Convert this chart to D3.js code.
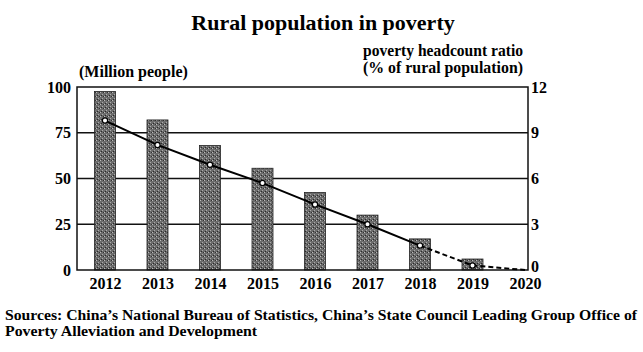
<!DOCTYPE html>
<html>
<head>
<meta charset="utf-8">
<script src="https://cdn.jsdelivr.net/npm/d3@7"></script>
<style>
  body { margin: 0; background: #fff; }
  svg { display: block; font-family: "Liberation Serif", "Times New Roman", serif; }
</style>
</head>
<body>
<svg width="643" height="352"></svg>
<script>
// data
var years = ["2012", "2013", "2014", "2015", "2016", "2017", "2018", "2019", "2020"];
var poorMillions = [97.5, 82, 68, 55.6, 42.3, 30, 17, 6, 0];
var headcountRatio = [9.8, 8.2, 6.9, 5.7, 4.3, 3.0, 1.6, 0.3, 0];
var leftTicks = [0, 25, 50, 75, 100];
var rightTicks = [0, 3, 6, 9, 12];

var svg = d3.select("svg"),
    pLeft = 77, pRight = 528, pTop = 87, pBottom = 270;

var x = d3.scalePoint().domain(years).range([pLeft + 28, pRight - 3]);
var yL = d3.scaleLinear().domain([0, 100]).range([pBottom, pTop]);
var yR = d3.scaleLinear().domain([0, 12]).range([pBottom, pTop]);

// grainy fill for the bars
var defs = svg.append("defs");
var pat = defs.append("pattern").attr("id", "grain")
    .attr("width", 4).attr("height", 4).attr("patternUnits", "userSpaceOnUse");
pat.append("rect").attr("width", 4).attr("height", 4).attr("fill", "#6b6b6b");
pat.append("rect").attr("x", 0).attr("y", 0).attr("width", 1).attr("height", 1).attr("fill", "#bbb");
pat.append("rect").attr("x", 2).attr("y", 2).attr("width", 1).attr("height", 1).attr("fill", "#aaa");
pat.append("rect").attr("x", 3).attr("y", 0).attr("width", 1).attr("height", 1).attr("fill", "#333");
pat.append("rect").attr("x", 1).attr("y", 3).attr("width", 1).attr("height", 1).attr("fill", "#2a2a2a");

// title
svg.append("text").attr("x", 323).attr("y", 30).attr("text-anchor", "middle")
    .attr("font-size", 22).attr("font-weight", "bold").text("Rural population in poverty");

// gridlines
svg.append("g").selectAll("line").data(leftTicks.slice(1, 4)).join("line")
    .attr("x1", pLeft).attr("x2", pRight)
    .attr("y1", d => yL(d)).attr("y2", d => yL(d))
    .attr("stroke", "#111").attr("stroke-width", 1.3);

// bars
svg.append("g").selectAll("rect").data(years.slice(0, 8)).join("rect")
    .attr("x", d => x(d) - 10.5)
    .attr("width", 21)
    .attr("y", (d, i) => yL(poorMillions[i]))
    .attr("height", (d, i) => pBottom - yL(poorMillions[i]))
    .attr("fill", "url(#grain)")
    .attr("stroke", "#222").attr("stroke-width", 0.8);

// frame
svg.append("rect").attr("x", pLeft).attr("y", pTop)
    .attr("width", pRight - pLeft).attr("height", pBottom - pTop)
    .attr("fill", "none").attr("stroke", "#111").attr("stroke-width", 1.5);

// left axis
var axL = svg.append("g").attr("transform", "translate(" + pLeft + ",0)")
    .call(d3.axisLeft(yL).tickValues(leftTicks).tickSize(0).tickPadding(6));
axL.select(".domain").remove();
axL.selectAll("text").attr("font-family", "Liberation Serif").attr("font-size", 16)
    .attr("font-weight", "bold").attr("fill", "#000");

// right axis
var axR = svg.append("g").attr("transform", "translate(" + pRight + ",0)")
    .call(d3.axisRight(yR).tickValues(rightTicks).tickSize(0).tickPadding(3));
axR.select(".domain").remove();
axR.selectAll("text").attr("font-family", "Liberation Serif").attr("font-size", 16)
    .attr("font-weight", "bold").attr("fill", "#000");
axR.selectAll("text").filter(d => d === 0).attr("dy", "0.1em");

// x axis labels
var axX = svg.append("g").attr("transform", "translate(0," + pBottom + ")")
    .call(d3.axisBottom(x).tickSize(0).tickPadding(8));
axX.select(".domain").remove();
axX.selectAll("text").attr("font-family", "Liberation Serif").attr("font-size", 16)
    .attr("font-weight", "bold").attr("fill", "#000");

// ratio line: solid up to 2018, dashed after
var line = d3.line().x(d => x(d.year)).y(d => yR(d.v));
var pts = years.map((yr, i) => ({year: yr, v: headcountRatio[i]}));
svg.append("path").datum(pts.slice(0, 7)).attr("d", line)
    .attr("fill", "none").attr("stroke", "#000").attr("stroke-width", 2);
svg.append("path").datum(pts.slice(6)).attr("d", line)
    .attr("fill", "none").attr("stroke", "#000").attr("stroke-width", 2)
    .attr("stroke-dasharray", "5,3");
svg.append("g").selectAll("circle").data(pts.slice(0, 8)).join("circle")
    .attr("cx", d => x(d.year)).attr("cy", d => yR(d.v)).attr("r", 2.6)
    .attr("fill", "#fff").attr("stroke", "#000").attr("stroke-width", 1.2);

// axis titles
svg.append("text").attr("x", 79).attr("y", 77)
    .attr("font-size", 16).attr("font-weight", "bold").text("(Million people)");
svg.append("text").attr("x", 443).attr("y", 56).attr("text-anchor", "middle")
    .attr("font-size", 16).attr("font-weight", "bold")
    .attr("textLength", 160).attr("lengthAdjust", "spacingAndGlyphs")
    .text("poverty headcount ratio");
svg.append("text").attr("x", 443).attr("y", 73).attr("text-anchor", "middle")
    .attr("font-size", 16).attr("font-weight", "bold")
    .attr("textLength", 160).attr("lengthAdjust", "spacingAndGlyphs")
    .text("(% of rural population)");

// sources
svg.append("text").attr("x", 5).attr("y", 320).attr("font-size", 15).attr("font-weight", "bold")
    .attr("textLength", 632).attr("lengthAdjust", "spacingAndGlyphs")
    .text("Sources: China\u2019s National Bureau of Statistics, China\u2019s State Council Leading Group Office of");
svg.append("text").attr("x", 5).attr("y", 336).attr("font-size", 15).attr("font-weight", "bold")
    .attr("textLength", 252).attr("lengthAdjust", "spacingAndGlyphs")
    .text("Poverty Alleviation and Development");
</script>
</body>
</html>
